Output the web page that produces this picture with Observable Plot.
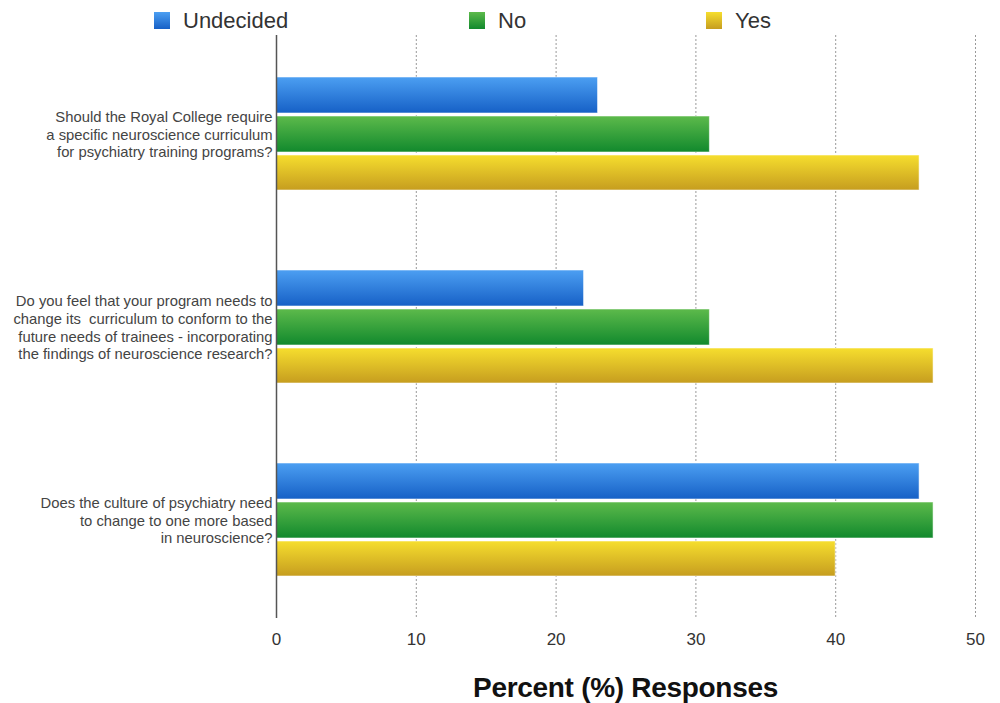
<!DOCTYPE html>
<html>
<head>
<meta charset="utf-8">
<script src="https://cdn.jsdelivr.net/npm/d3@7"></script>
<script src="https://cdn.jsdelivr.net/npm/@observablehq/plot@0.6"></script>
<style>
  html, body { margin: 0; padding: 0; background: #fff; }
  body { width: 1000px; height: 703px; overflow: hidden; font-family: "Liberation Sans", Arial, sans-serif; }
  #legend { position: relative; height: 30px; }
  .sw { position: absolute; top: 12px; width: 16px; height: 17px; }
  .lab { position: absolute; top: 9px; font-size: 22px; color: #333; white-space: nowrap; line-height: 24px; }
  #title { height: 43px; box-sizing: border-box; padding-top: 12px; padding-left: 276px; width: 975px; text-align: center;
           font-weight: bold; font-size: 28px; color: #111; line-height: 31px; letter-spacing: -0.3px; }
</style>
</head>
<body>
<div id="legend"></div>
<div id="chart"></div>
<div id="title"></div>
<script>
const questions = [
  "Should the Royal College require\na specific neuroscience curriculum\nfor psychiatry training programs?",
  "Do you feel that your program needs to\nchange its  curriculum to conform to the\nfuture needs of trainees - incorporating\nthe findings of neuroscience research?",
  "Does the culture of psychiatry need\nto change to one more based\nin neuroscience?"
];
const series = ["Undecided", "No", "Yes"];
const undecided = [23, 22, 46];
const no = [31, 31, 47];
const yes = [46, 47, 40];
const xTicks = [0, 10, 20, 30, 40, 50];
const axisTitle = "Percent (%) Responses";

const gradients = {
  Undecided: ["#4c9ff2", "#1660c6"],
  No: ["#5dba4b", "#11892d"],
  Yes: ["#f6de2e", "#c69d1f"]
};
const ids = {Undecided: "gU", No: "gN", Yes: "gY"};

// legend
const legendX = {Undecided: 154, No: 469, Yes: 706};
const legend = document.getElementById("legend");
series.forEach(s => {
  const sw = document.createElement("div");
  sw.className = "sw";
  sw.style.left = legendX[s] + "px";
  sw.style.background = `linear-gradient(${gradients[s][0]}, ${gradients[s][1]})`;
  legend.appendChild(sw);
  const lab = document.createElement("div");
  lab.className = "lab";
  lab.style.left = (legendX[s] + 29) + "px";
  lab.textContent = s;
  legend.appendChild(lab);
});
document.getElementById("title").textContent = axisTitle;

const rows = questions.map((q, i) => ({q, Undecided: undecided[i], No: no[i], Yes: yes[i]}));

const barOpts = {
  Undecided: {insetTop: 0, insetBottom: 77},
  No: {insetTop: 39, insetBottom: 38},
  Yes: {insetTop: 78, insetBottom: 0}
};

const chart = Plot.plot({
  width: 1000,
  height: 630,
  marginTop: 5,
  marginBottom: 42,
  marginLeft: 276,
  marginRight: 25,
  style: {fontFamily: "Liberation Sans, Arial, sans-serif", color: "#444", background: "#fff"},
  x: {domain: [0, 50]},
  y: {domain: questions, paddingInner: 0.412, paddingOuter: 0.209},
  marks: [
    Plot.gridX({ticks: xTicks.slice(1), stroke: "#999", strokeOpacity: 1, strokeDasharray: "2,2", strokeWidth: 1}),
    ...series.map(s => Plot.barX(rows, {
      y: "q", x: s,
      fill: `url(#${ids[s]})`,
      stroke: "#ffffff", strokeOpacity: 0.55, strokeWidth: 1,
      ...barOpts[s]
    })),
    Plot.ruleX([0], {stroke: "#555", strokeWidth: 1.5}),
    Plot.axisX({ticks: xTicks, tickSize: 0, tickPadding: 14, fontSize: 17, label: null, color: "#333"}),
    Plot.axisY({tickSize: 0, tickPadding: 4, fontSize: 14.8, lineHeight: 1.2, label: null, color: "#444"})
  ]
});

// gradient defs
const svg = d3.select(chart);
const defs = svg.insert("defs", ":first-child");
series.forEach(s => {
  const g = defs.append("linearGradient").attr("id", ids[s]).attr("x1", 0).attr("y1", 0).attr("x2", 0).attr("y2", 1);
  g.append("stop").attr("offset", "0%").attr("stop-color", gradients[s][0]);
  g.append("stop").attr("offset", "100%").attr("stop-color", gradients[s][1]);
});

document.getElementById("chart").appendChild(chart);
</script>
</body>
</html>
